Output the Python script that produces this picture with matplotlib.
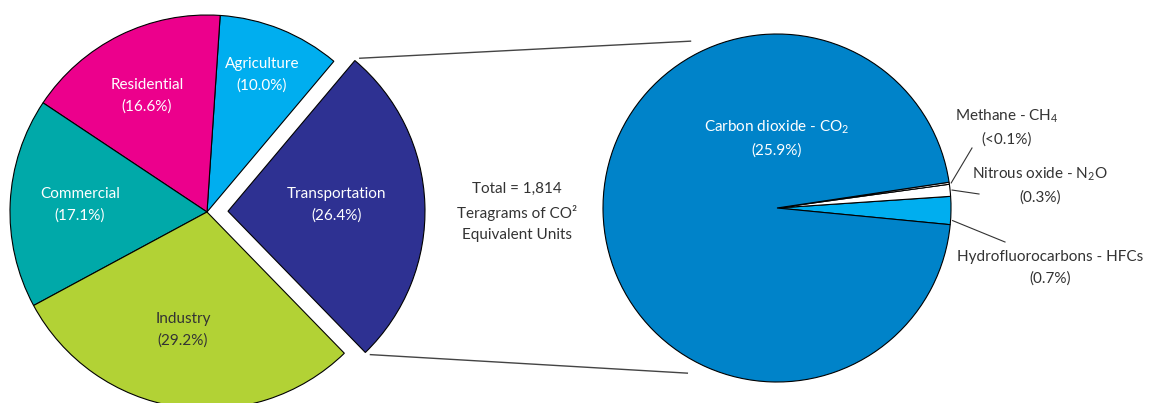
import numpy as np
import matplotlib
matplotlib.use("Agg")
import matplotlib.pyplot as plt

plt.rcParams['font.family'] = ['Lato', 'DejaVu Sans']
plt.rcParams['mathtext.fontset'] = 'custom'
plt.rcParams['mathtext.rm'] = 'Lato'
plt.rcParams['mathtext.it'] = 'Lato'

# ---- data ----
sectors = ["Transportation", "Agriculture", "Residential", "Commercial", "Industry"]
sector_pct = [26.4, 10.0, 16.6, 17.1, 29.2]
sector_colors = ["#2E3192", "#00AEEF", "#EC008C", "#00A9A9", "#B2D235"]

gases = ["Hydrofluorocarbons - HFCs", "Nitrous oxide - N$_2$O", "Methane - CH$_4$", "Carbon dioxide - CO$_2$"]
gas_pct = [0.7, 0.3, 0.05, 25.9]
gas_pct_labels = ["(0.7%)", "(0.3%)", "(<0.1%)", "(25.9%)"]
gas_colors = ["#00AEEF", "#FFFFFF", "#FFFFFF", "#0083C9"]

W, H = 1151, 403
fig = plt.figure(figsize=(W / 100, H / 100), dpi=100)
ax = fig.add_axes([0, 0, 1, 1])

def P(x, y):
    return (x, H - y)

c1 = P(207, 212)
r1 = 197
explode = [21, 0, 0, 0, 0]   # offset in data units (pixels)
w1, _ = ax.pie(sector_pct, colors=sector_colors, startangle=-45.8, counterclock=True,
               center=c1, radius=r1, explode=explode,
               wedgeprops=dict(edgecolor="black", linewidth=0.8))

c2 = P(777, 208)
r2 = 174
w2, _ = ax.pie(gas_pct, colors=gas_colors, startangle=-5.5, counterclock=True,
               center=c2, radius=r2,
               wedgeprops=dict(edgecolor="black", linewidth=0.8))

ax.set_xlim(0, W)
ax.set_ylim(0, H)
ax.set_aspect('equal')
ax.axis('off')

# connector lines from exploded wedge corners to the zoomed pie
tw = w1[0]
tc = np.array(tw.center)
for ang, tgt_ang in [(tw.theta2, 117.4), (tw.theta1, -118.5)]:
    a = np.deg2rad(ang)
    start = tc + (r1 + 3) * np.array([np.cos(a), np.sin(a)]) + np.array([3, 0])
    b = np.deg2rad(tgt_ang)
    end = np.array(c2) + 1.08 * r2 * np.array([np.cos(b), np.sin(b)])
    ax.plot([start[0], end[0]], [start[1], end[1]], color="#444444", lw=1.0)

fs = 11
wt = "white"
dk = "#333333"
ls = 1.6
left_label_pos = [(337, 205), (262, 75), (147, 96), (80, 205), (183, 330)]
left_label_col = [wt, wt, wt, wt, dk]
for name, pct, (x, y), col in zip(sectors, sector_pct, left_label_pos, left_label_col):
    ax.text(*P(x, y), f"{name}\n({pct:.1f}%)", ha="center", va="center",
            color=col, fontsize=fs, linespacing=ls)

ax.text(*P(517, 212), "Total = 1,814\nTeragrams of CO\u00b2\nEquivalent Units",
        ha="center", va="center", color=dk, fontsize=fs, linespacing=1.7)

# right pie labels
ax.text(*P(777, 138), gases[3] + "\n" + gas_pct_labels[3], ha="center", va="center",
        color=wt, fontsize=fs, linespacing=ls)
ax.text(*P(1007, 127), gases[2] + "\n" + gas_pct_labels[2], ha="center", va="center",
        color=dk, fontsize=fs, linespacing=ls)
ax.text(*P(1040, 185), gases[1] + "\n" + gas_pct_labels[1], ha="center", va="center",
        color=dk, fontsize=fs, linespacing=ls)
ax.text(*P(1050, 268), gases[0] + "\n" + gas_pct_labels[0], ha="center", va="center",
        color=dk, fontsize=fs, linespacing=ls)

# leader lines for small wedges
leaders = [(w2[2], 0.0, P(972, 148)), (w2[1], 0.0, P(979, 194)), (w2[0], 0.15, P(1005, 242))]
for wi, frac, end in leaders:
    ang = wi.theta1 + (wi.theta2 - wi.theta1) * (0.5 if frac == 0.0 else frac)
    a = np.deg2rad(ang)
    start = np.array(c2) + (r2 + 2) * np.array([np.cos(a), np.sin(a)])
    ax.plot([start[0], end[0]], [start[1], end[1]], color="#333333", lw=0.8)

fig.savefig("out.png", dpi=100)
